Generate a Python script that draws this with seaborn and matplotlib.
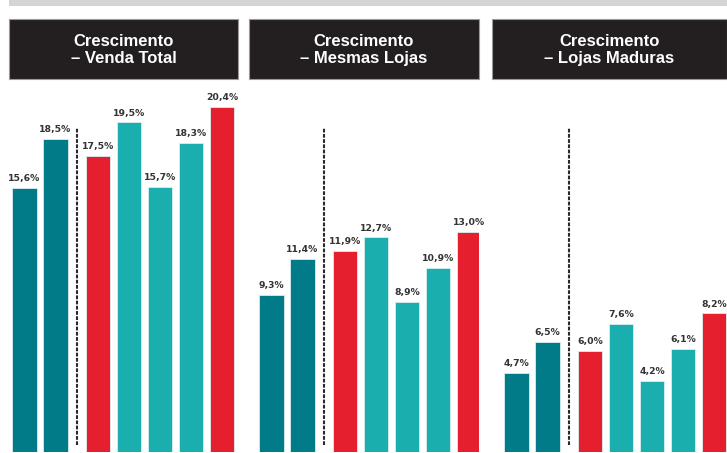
import matplotlib.pyplot as plt
import pandas as pd
import seaborn as sns
from matplotlib.patches import Rectangle

PANEL_TITLES = [
    "Crescimento\n– Venda Total",
    "Crescimento\n– Mesmas Lojas",
    "Crescimento\n– Lojas Maduras",
]
BAR_NAMES = ["b1", "b2", "b3", "b4", "b5", "b6", "b7"]
VENDA_TOTAL = [15.6, 18.5, 17.5, 19.5, 15.7, 18.3, 20.4]
MESMAS_LOJAS = [9.3, 11.4, 11.9, 12.7, 8.9, 10.9, 13.0]
LOJAS_MADURAS = [4.7, 6.5, 6.0, 7.6, 4.2, 6.1, 8.2]

DARK_TEAL = "#007b87"
TEAL = "#1aaeae"
RED = "#e61f2f"
BAR_COLORS = [DARK_TEAL, DARK_TEAL, RED, TEAL, TEAL, TEAL, RED]

# layout (pixels of a 727x453 canvas)
W, H = 727, 453
PX_PER_UNIT = 31.0
PX_PER_PCT = 16.9
BAR_POS = [0, 1, 2.37, 3.37, 4.37, 5.37, 6.37]
DIVIDER_POS = 1.685
PANELS = [  # header left, header width, first bar centre
    (9, 229, 24.5),
    (249, 230, 271.5),
    (492, 235, 516.5),
]
AX_TOP, AX_BOTTOM = 80, 452
HEADER_TOP, HEADER_BOTTOM = 19, 79


def fx(px):
    return px / W


def fy(py):
    return 1 - py / H


def draw_panel(fig, values, title, panel):
    left, width, first_centre = panel
    ax = fig.add_axes([fx(left), fy(AX_BOTTOM), width / W, (AX_BOTTOM - AX_TOP) / H])

    df = pd.DataFrame({"pos": BAR_POS, "value": values, "bar": BAR_NAMES})
    sns.barplot(
        data=df, x="pos", y="value", hue="bar", palette=BAR_COLORS,
        native_scale=True, dodge=False, legend=False, width=0.8,
        saturation=1, edgecolor="#d8eeee", linewidth=0.6, ax=ax,
    )

    for p, v in zip(BAR_POS, values):
        ax.annotate(
            f"{v:.1f}%".replace(".", ","), (p, v), xytext=(0, 3.5),
            textcoords="offset points", ha="center", va="bottom",
            fontsize=6.7, fontweight="bold", color="#333333",
            family="DejaVu Sans",
        )

    ax.vlines(DIVIDER_POS, 0.4, 19.2, colors="#2a2a2a", linewidth=1.5,
              linestyles=(0, (1.8, 0.7)))

    x0 = (left - first_centre) / PX_PER_UNIT
    ax.set_xlim(x0, x0 + width / PX_PER_UNIT)
    ax.set_ylim(0, (AX_BOTTOM - AX_TOP) / PX_PER_PCT)
    ax.set_axis_off()

    fig.patches.append(Rectangle(
        (fx(left), fy(HEADER_BOTTOM)), width / W, (HEADER_BOTTOM - HEADER_TOP) / H,
        transform=fig.transFigure, facecolor="#231f20", edgecolor="#9a9a9a",
        linewidth=0.8, zorder=1,
    ))
    fig.text(
        fx(left + width / 2), fy((HEADER_TOP + HEADER_BOTTOM) / 2 + 1), title,
        ha="center", va="center", color="white", fontsize=12,
        fontweight="bold", family="Liberation Sans", linespacing=1.2,
        zorder=2,
    )


def main():
    sns.set_style("white")
    fig = plt.figure(figsize=(W / 100, H / 100), dpi=100)

    # grey strip along the top
    fig.patches.append(Rectangle(
        (fx(9), fy(6)), 1 - fx(9), 6 / H, transform=fig.transFigure,
        facecolor="#d4d4d4", edgecolor="none",
    ))

    for values, title, panel in zip(
        [VENDA_TOTAL, MESMAS_LOJAS, LOJAS_MADURAS], PANEL_TITLES, PANELS
    ):
        draw_panel(fig, values, title, panel)

    fig.savefig("out.png", dpi=100)
    plt.close(fig)


if __name__ == "__main__":
    main()
